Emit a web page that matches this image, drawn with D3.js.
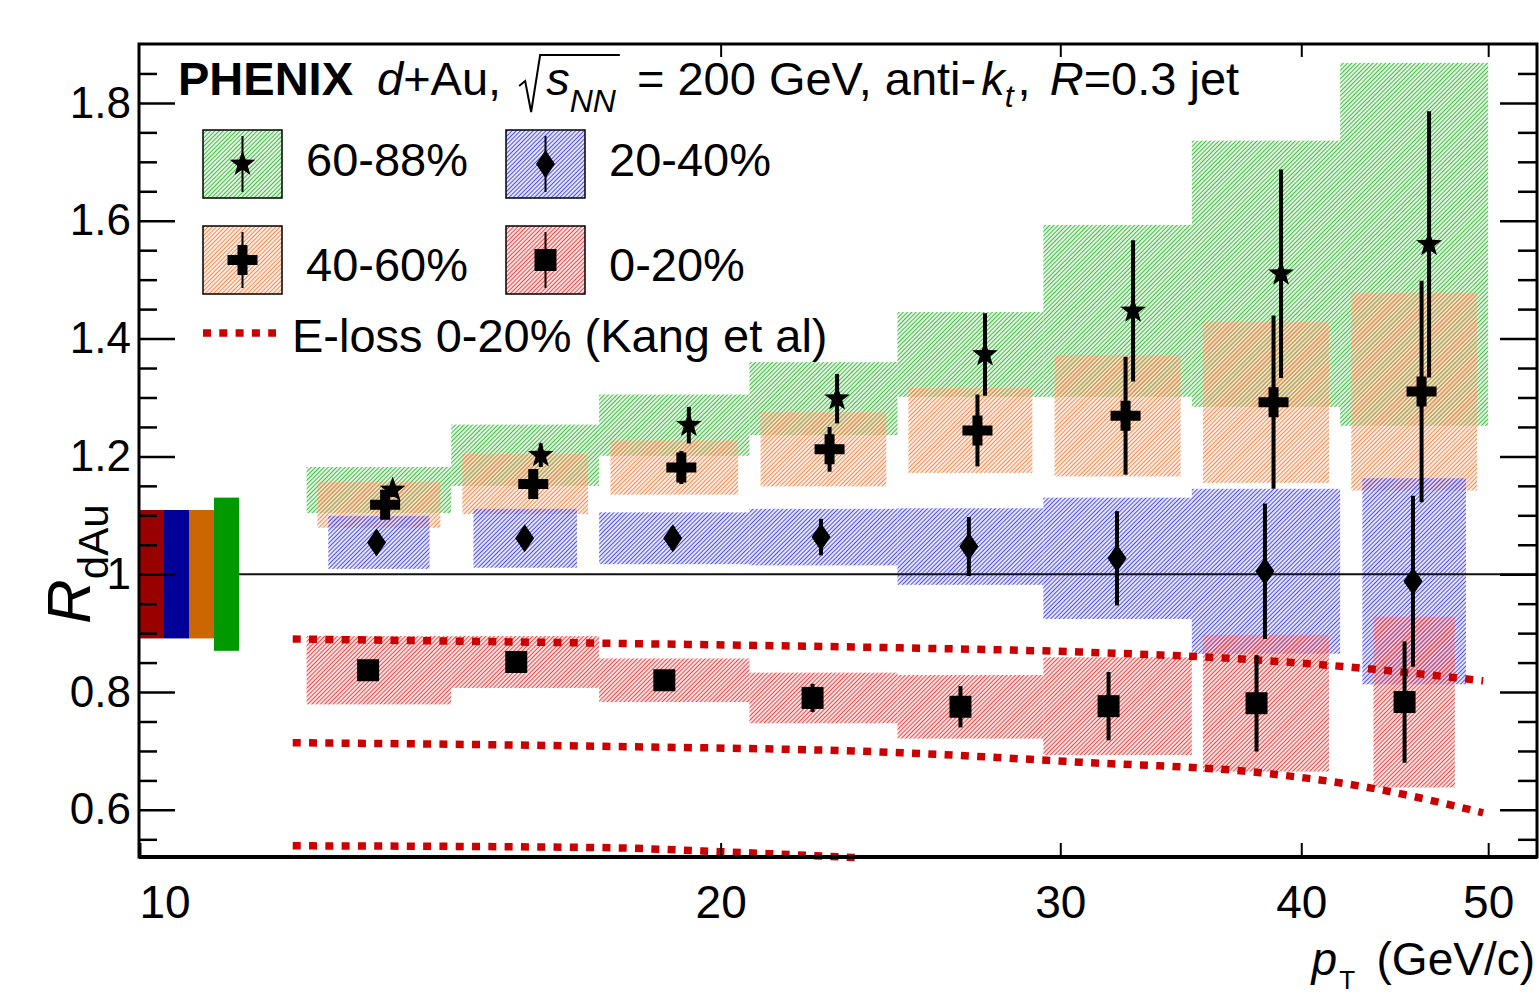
<!DOCTYPE html>
<meta charset="utf-8">
<head>
  <title>PHENIX d+Au jet R_dAu</title>
  <script src="https://cdn.jsdelivr.net/npm/d3@7"></script>
  <style>
    body { margin: 0; background: #fff; }
    text { font-family: "Liberation Sans", Arial, Helvetica, sans-serif; fill: #000; }
  </style>
</head>
<body>
<div id="chart"></div>
<script>
  // ---- data ----
  var binEdges = [12.2, 14.5, 17.3, 20.7, 24.7, 29.4, 35.1, 41.9, 50.0];
  var binPt    = [13.13, 15.67, 18.70, 22.32, 26.63, 31.78, 37.92, 45.25];

  var cent = ["60-88%", "40-60%", "20-40%", "0-20%"];

  var r60_88    = [1.143, 1.202, 1.253, 1.298, 1.373, 1.447, 1.510, 1.560];
  var stat60_88 = [0.012, 0.020, 0.031, 0.042, 0.070, 0.120, 0.177, 0.226];
  var sys60_88  = [0.039, 0.052, 0.052, 0.062, 0.072, 0.146, 0.226, 0.308];

  var r40_60    = [1.118, 1.153, 1.181, 1.212, 1.244, 1.269, 1.292, 1.310];
  var stat40_60 = [0.015, 0.020, 0.028, 0.038, 0.061, 0.100, 0.147, 0.188];
  var sys40_60  = [0.039, 0.051, 0.046, 0.063, 0.072, 0.103, 0.137, 0.168];

  var r20_40    = [1.054, 1.061, 1.061, 1.063, 1.047, 1.027, 1.005, 0.988];
  var stat20_40 = [0.010, 0.012, 0.020, 0.031, 0.050, 0.080, 0.115, 0.145];
  var sys20_40  = [0.045, 0.050, 0.044, 0.048, 0.065, 0.103, 0.140, 0.175];

  var r0_20     = [0.837, 0.851, 0.820, 0.790, 0.775, 0.776, 0.781, 0.783];
  var stat0_20  = [0.010, 0.012, 0.015, 0.024, 0.035, 0.058, 0.082, 0.103];
  var sys0_20   = [0.058, 0.044, 0.037, 0.043, 0.054, 0.083, 0.116, 0.145];

  // global (normalisation) uncertainties, drawn at R=1 on the left
  var globalUnc = [0.130, 0.109, 0.109, 0.109];

  // E-loss calculation (Kang et al), three curves
  var elossTop = [[12.0, 0.890], [17.3, 0.883], [24.8, 0.875], [30.7, 0.868], [38.1, 0.854], [43.5, 0.839], [49.7, 0.819]];
  var elossMid = [[12.0, 0.714], [17.3, 0.708], [24.8, 0.697], [30.7, 0.681], [38.1, 0.663], [43.5, 0.637], [49.7, 0.595]];
  var elossLow = [[12.0, 0.539], [17.3, 0.536], [20.0, 0.529], [23.5, 0.519]];

  var yTicks = [0.6, 0.8, 1.0, 1.2, 1.4, 1.6, 1.8];
  var xTicks = [10, 20, 30, 40, 50];

  // ---- styling ----
  var W = 1539, H = 997;
  var L = 139, R = 1537, T = 44, B = 857;

  var hatchCol = ["#44bd44", "#f68a50", "#5050f2", "#f24545"];
  var barCol   = ["#009900", "#cc6600", "#000099", "#990000"];
  var ptShift  = [1.0297, 1.0205, 1.0101, 1.0];   // horizontal marker offsets
  var boxInset = [                                // systematic box narrowing
    [0, 0, 0, 0, 0, 0, 0, 0],
    [1, 1, 1, 1, 1, 1, 1, 1],
    [2, 2, 0, 0, 0, 0, 0, 2],
    [0, 0, 0, 0, 0, 0, 1, 3]
  ];
  var markers = ["star", "cross", "diamond", "square"];

  var series = [
    { vals: r60_88, stat: stat60_88, sys: sys60_88 },
    { vals: r40_60, stat: stat40_60, sys: sys40_60 },
    { vals: r20_40, stat: stat20_40, sys: sys20_40 },
    { vals: r0_20,  stat: stat0_20,  sys: sys0_20 }
  ];

  var x = d3.scaleLog().domain([10, 53]).range([140, R]);
  var y = d3.scaleLinear().domain([0.52, 1.9]).range([B, T]);

  var svg = d3.select("#chart").append("svg")
    .attr("width", W).attr("height", H).style("display", "block");

  var defs = svg.append("defs");
  hatchCol.forEach(function (c, i) {
    defs.append("pattern").attr("id", "hatch" + i)
      .attr("patternUnits", "userSpaceOnUse")
      .attr("width", 3).attr("height", 3)
      .attr("patternTransform", "rotate(45)")
      .append("line")
      .attr("x1", 1.5).attr("y1", 0).attr("x2", 1.5).attr("y2", 3)
      .attr("stroke", c).attr("stroke-width", 1.3);
  });

  function markerPath(type, cx, cy) {
    if (type === "square") {
      return "M" + (cx - 11) + "," + (cy - 11) + "h22v22h-22Z";
    } else if (type === "diamond") {
      return "M" + cx + "," + (cy - 14) + "L" + (cx + 9.5) + "," + cy + "L" + cx + "," + (cy + 14) + "L" + (cx - 9.5) + "," + cy + "Z";
    } else if (type === "cross") {
      var a = 15, t = 5;
      return "M" + (cx - t) + "," + (cy - a) + "h" + 2 * t + "v" + (a - t) + "h" + (a - t) + "v" + 2 * t + "h" + (t - a) +
        "v" + (a - t) + "h" + (-2 * t) + "v" + (t - a) + "h" + (t - a) + "v" + (-2 * t) + "h" + (a - t) + "Z";
    } else {
      var p = [];
      for (var k = 0; k < 10; k++) {
        var ang = -Math.PI / 2 + k * Math.PI / 5;
        var rr = k % 2 === 0 ? 13.5 : 5.5;
        p.push([cx + rr * Math.cos(ang), cy + rr * Math.sin(ang)]);
      }
      return "M" + p.join("L") + "Z";
    }
  }

  // ---- systematic boxes ----
  var gBox = svg.append("g");
  series.forEach(function (s, si) {
    gBox.selectAll(null).data(s.vals).enter().append("rect")
      .attr("x", function (d, i) {
        var x0 = x(binEdges[i]), x1 = x(binEdges[i + 1]);
        return x0 + boxInset[si][i] * 0.075 * (x1 - x0);
      })
      .attr("width", function (d, i) {
        var x0 = x(binEdges[i]), x1 = x(binEdges[i + 1]);
        return (x1 - x0) * (1 - 2 * boxInset[si][i] * 0.075);
      })
      .attr("y", function (d, i) { return y(d + s.sys[i]); })
      .attr("height", function (d, i) { return y(d - s.sys[i]) - y(d + s.sys[i]); })
      .attr("fill", "url(#hatch" + si + ")");
  });

  // ---- global uncertainty bars on the left ----
  var barOrder = [3, 2, 1, 0];
  barOrder.forEach(function (si, k) {
    svg.append("rect")
      .attr("x", L + k * 25).attr("width", 25)
      .attr("y", y(1 + globalUnc[si]))
      .attr("height", y(1 - globalUnc[si]) - y(1 + globalUnc[si]))
      .attr("fill", barCol[si]);
  });

  // unity line
  svg.append("line")
    .attr("x1", L + 100).attr("x2", R).attr("y1", y(1)).attr("y2", y(1))
    .attr("stroke", "#111").attr("stroke-width", 2);

  // ---- E-loss curves ----
  var line = d3.line()
    .x(function (d) { return x(d[0]); })
    .y(function (d) { return y(d[1]); })
    .curve(d3.curveMonotoneX);
  [elossTop, elossMid, elossLow].forEach(function (c) {
    svg.append("path").attr("d", line(c))
      .attr("fill", "none").attr("stroke", "#cc0000")
      .attr("stroke-width", 7.5).attr("stroke-dasharray", "8,8.3");
  });

  // ---- points with stat errors ----
  var gPts = svg.append("g");
  [3, 2, 1, 0].forEach(function (si) {
    var s = series[si];
    var g = gPts.append("g");
    g.selectAll(null).data(s.vals).enter().append("line")
      .attr("x1", function (d, i) { return x(binPt[i] * ptShift[si]); })
      .attr("x2", function (d, i) { return x(binPt[i] * ptShift[si]); })
      .attr("y1", function (d, i) { return y(d + s.stat[i]); })
      .attr("y2", function (d, i) { return y(d - s.stat[i]); })
      .attr("stroke", "#000").attr("stroke-width", 4);
    g.selectAll(null).data(s.vals).enter().append("path")
      .attr("d", function (d, i) { return markerPath(markers[si], x(binPt[i] * ptShift[si]), y(d)); })
      .attr("fill", "#000");
  });

  // ---- axes ----
  function styleAxis(g, size) {
    g.select(".domain").remove();
    g.selectAll(".tick line").attr("stroke", "#000").attr("stroke-width", 2.5);
    g.selectAll("text").style("font-size", size + "px")
      .style("font-family", "'Liberation Sans', Arial, sans-serif").attr("fill", "#000");
  }
  var yMinor = d3.range(0.55, 1.9, 0.05).map(function (v) { return +v.toFixed(2); })
    .filter(function (v) { return yTicks.indexOf(v) < 0; });

  var fmtY = function (d) { return d === 1 ? "1" : d3.format(".1f")(d); };

  svg.append("g").attr("transform", "translate(" + L + ",0)")
    .call(d3.axisLeft(y).tickValues(yTicks).tickSize(-36).tickSizeOuter(0).tickPadding(8).tickFormat(fmtY))
    .call(styleAxis, 44);
  svg.append("g").attr("transform", "translate(" + L + ",0)")
    .call(d3.axisLeft(y).tickValues(yMinor).tickSize(-18).tickSizeOuter(0).tickFormat(""))
    .call(styleAxis, 44);
  svg.append("g").attr("transform", "translate(" + R + ",0)")
    .call(d3.axisRight(y).tickValues(yTicks).tickSize(-37).tickSizeOuter(0).tickFormat(""))
    .call(styleAxis, 44);
  svg.append("g").attr("transform", "translate(" + R + ",0)")
    .call(d3.axisRight(y).tickValues(yMinor).tickSize(-19).tickSizeOuter(0).tickFormat(""))
    .call(styleAxis, 44);

  var xb = svg.append("g").attr("transform", "translate(0," + B + ")")
    .call(d3.axisBottom(x).tickValues(xTicks).tickSize(-14).tickSizeOuter(0).tickPadding(28).tickFormat(d3.format("d")))
    .call(styleAxis, 46);
  xb.selectAll(".tick line").attr("stroke-width", 2);
  xb.selectAll(".tick").filter(function (d) { return d === 10; })
    .select("text").attr("text-anchor", "start").attr("x", -1);
  svg.append("g").attr("transform", "translate(0," + T + ")")
    .call(d3.axisTop(x).tickValues(xTicks.slice(1)).tickSize(-13).tickSizeOuter(0).tickFormat(""))
    .call(styleAxis, 46)
    .selectAll(".tick line").attr("stroke-width", 2);

  // frame
  svg.append("rect").attr("x", L).attr("y", T).attr("width", R - L).attr("height", B - T)
    .attr("fill", "none").attr("stroke", "#000").attr("stroke-width", 3);
  svg.append("line").attr("x1", L).attr("x2", R).attr("y1", B).attr("y2", B)
    .attr("stroke", "#000").attr("stroke-width", 4);

  // ---- text helper ----
  function rich(parent, x0, base, parts) {
    var cx = x0, pos = [];
    parts.forEach(function (p) {
      cx += p.gap || 0;
      var t = parent.append("text").attr("x", cx).attr("y", base + (p.dy || 0))
        .style("font-size", (p.size || 47) + "px").style("white-space", "pre")
        .style("font-style", p.it ? "italic" : "normal")
        .style("font-weight", p.b ? "bold" : "normal").text(p.t);
      var w = t.node().getComputedTextLength();
      pos.push([cx, cx + w]);
      cx += w;
    });
    return pos;
  }

  // title
  var tp = rich(svg, 178, 95, [
    { t: "PHENIX", b: 1 },
    { t: "d", it: 1, gap: 24 },
    { t: "+Au," },
    { t: "s", it: 1, gap: 45 },
    { t: "NN", it: 1, size: 32, dy: 17 },
    { t: " = 200 GeV, anti-", gap: 8 },
    { t: "k", it: 1, gap: 5 },
    { t: "t", it: 1, size: 32, dy: 12 },
    { t: ", ", gap: 4 },
    { t: "R", it: 1, gap: 6 },
    { t: "=0.3 jet" }
  ]);
  var rx = tp[3][0] - 27;
  svg.append("path")
    .attr("d", "M" + rx + ",86L" + (rx + 6) + ",81L" + (rx + 12) + ",112L" + (rx + 21) + ",55L" + (tp[4][1] + 4) + ",55")
    .attr("fill", "none").attr("stroke", "#000").attr("stroke-width", 2);

  // ---- legend ----
  var legPos = [[203, 130], [203, 226], [506, 130], [506, 226]];   // by series index 0..3
  var legTxt = [[306, 176], [306, 281], [609, 176], [609, 281]];
  series.forEach(function (s, si) {
    var bx = legPos[si][0], by = legPos[si][1];
    svg.append("rect").attr("x", bx).attr("y", by).attr("width", 79).attr("height", 68)
      .attr("fill", "url(#hatch" + si + ")").attr("stroke", "#000").attr("stroke-width", 1.5);
    svg.append("line").attr("x1", bx + 39.5).attr("x2", bx + 39.5).attr("y1", by + 6).attr("y2", by + 62)
      .attr("stroke", "#000").attr("stroke-width", 2);
    svg.append("path").attr("d", markerPath(markers[si], bx + 39.5, by + 34)).attr("fill", "#000");
    svg.append("text").attr("x", legTxt[si][0]).attr("y", legTxt[si][1])
      .style("font-size", "47px").text(cent[si]);
  });
  svg.append("line").attr("x1", 203).attr("x2", 276).attr("y1", 333).attr("y2", 333)
    .attr("stroke", "#cc0000").attr("stroke-width", 7.5).attr("stroke-dasharray", "8,8.3");
  svg.append("text").attr("x", 292).attr("y", 352).style("font-size", "47px")
    .text("E-loss 0-20% (Kang et al)");

  // ---- axis titles ----
  var yt = svg.append("g").attr("transform", "translate(90,624) rotate(-90)");
  rich(yt, 0, 0, [
    { t: "R", it: 1, size: 62 },
    { t: "dAu", it: 0, size: 42, dy: 18 }
  ]);
  var xt = svg.append("g");
  var gev = xt.append("text").attr("x", 1535).attr("y", 975).attr("text-anchor", "end")
    .style("font-size", "46px").text("(GeV/c)");
  var gx0 = 1535 - gev.node().getComputedTextLength();
  rich(xt, gx0 - 65, 975, [
    { t: "p", it: 1, size: 46 },
    { t: "T", size: 26, dy: 14, gap: 2 }
  ]);
</script>
</body>
</html>
